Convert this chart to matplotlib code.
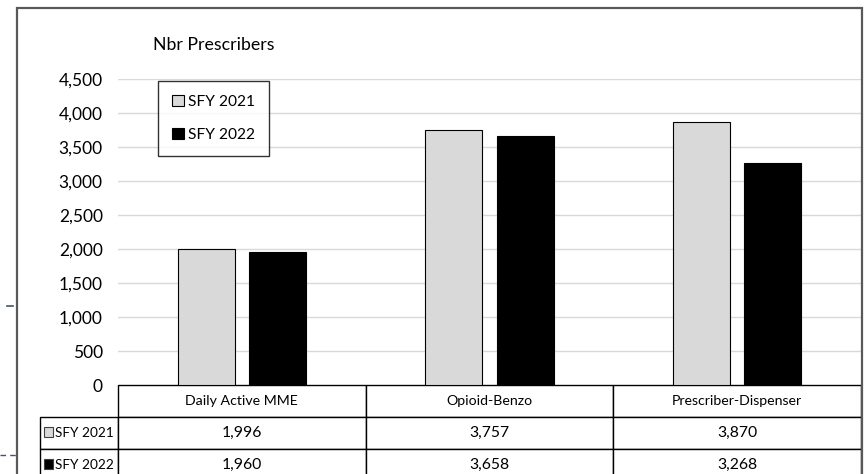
import numpy as np
import matplotlib.pyplot as plt
from matplotlib.patches import Rectangle
from matplotlib.lines import Line2D

categories = ['Daily Active MME', 'Opioid-Benzo', 'Prescriber-Dispenser']
series_names = ['SFY 2021', 'SFY 2022']
sfy2021 = [1996, 3757, 3870]
sfy2022 = [1960, 3658, 3268]
yticks = [0, 500, 1000, 1500, 2000, 2500, 3000, 3500, 4000, 4500]
colors = ['#d9d9d9', '#000000']

plt.rcParams['font.family'] = ['Lato', 'DejaVu Sans']

W, H = 866, 474
fig = plt.figure(figsize=(W / 100, H / 100), dpi=100)

# slide frame around the chart
fig.patches.append(Rectangle((17 / W, -0.1), (862 - 17) / W, 1.1 - 8 / H,
                             transform=fig.transFigure, fill=False,
                             edgecolor='#595959', lw=1.6))
# bits of the slide background peeking out on the left
fig.lines.append(Line2D([0, 16 / W], [1 - 455 / H] * 2, transform=fig.transFigure,
                        color='#44546a', lw=1, ls=(0, (4, 3))))
fig.lines.append(Line2D([7 / W, 13 / W], [1 - 306 / H] * 2, transform=fig.transFigure,
                        color='#44546a', lw=1.2))

ax = fig.add_axes([118 / W, 1 - 385 / H, (861 - 118) / W, (385 - 79) / H])

x = np.arange(len(categories)) + 0.5
off, bw = 0.144, 0.23
ax.bar(x - off, sfy2021, bw, color=colors[0], edgecolor='black', lw=0.8,
       label=series_names[0], zorder=3)
ax.bar(x + off, sfy2022, bw, color=colors[1], edgecolor='black', lw=0.8,
       label=series_names[1], zorder=3)

ax.set_xlim(0, len(categories))
ax.set_ylim(0, 4500)
ax.set_yticks(yticks)
ax.set_yticklabels([f'{v:,}' for v in yticks], fontsize=12.5)
ax.tick_params(axis='y', length=0, pad=11)
ax.set_xticks([])
ax.yaxis.grid(True, color='#d9d9d9', lw=1)
ax.set_axisbelow(True)
for s in ax.spines.values():
    s.set_visible(False)

fig.text(153 / W, 1 - 45 / H, 'Nbr Prescribers', fontsize=12.8, va='center')

leg = ax.legend(loc='upper left', bbox_to_anchor=(0.054, 0.995), borderaxespad=0,
                frameon=True, fancybox=False, edgecolor='black', fontsize=11.2,
                handlelength=0.75, handleheight=0.75, handletextpad=0.25,
                labelspacing=1.25, borderpad=0.9)
leg.get_frame().set_linewidth(1)

# data table under the bars; first column holds the series names
cell_text = [[n] + [f'{v:,}' for v in vals]
             for n, vals in zip(series_names, [sfy2021, sfy2022])]
axw = 861 - 118
tbl = ax.table(cellText=cell_text, colLabels=[''] + categories, cellLoc='center',
               bbox=[(40 - 118) / axw, (385 - 481) / 306, (861 - 40) / axw, 96 / 306])
tbl.auto_set_font_size(False)
tbl.set_fontsize(10.2)
ncols = len(categories)
for (r, c), cell in tbl.get_celld().items():
    cell.set_edgecolor('black')
    cell.set_linewidth(1)
    if c == 0:
        cell.set_width(78 / axw)
        cell.get_text().set_ha('left')
        cell.get_text().set_fontsize(9.8)
        cell.PAD = 15 / 78
        if r == 0:
            cell.visible_edges = ''
    else:
        cell.set_width((861 - 118) / axw / ncols)
        if r > 0:
            cell.get_text().set_fontsize(11.3)

# series swatches inside the row labels
for i, col in enumerate(colors):
    yc = 1 - (432 + 32 * i) / H
    fig.patches.append(Rectangle((44 / W, yc - 5 / H), 9 / W, 10 / H,
                                 transform=fig.transFigure, facecolor=col,
                                 edgecolor='#404040', lw=0.8, zorder=5))

fig.savefig('out.png', dpi=100)
